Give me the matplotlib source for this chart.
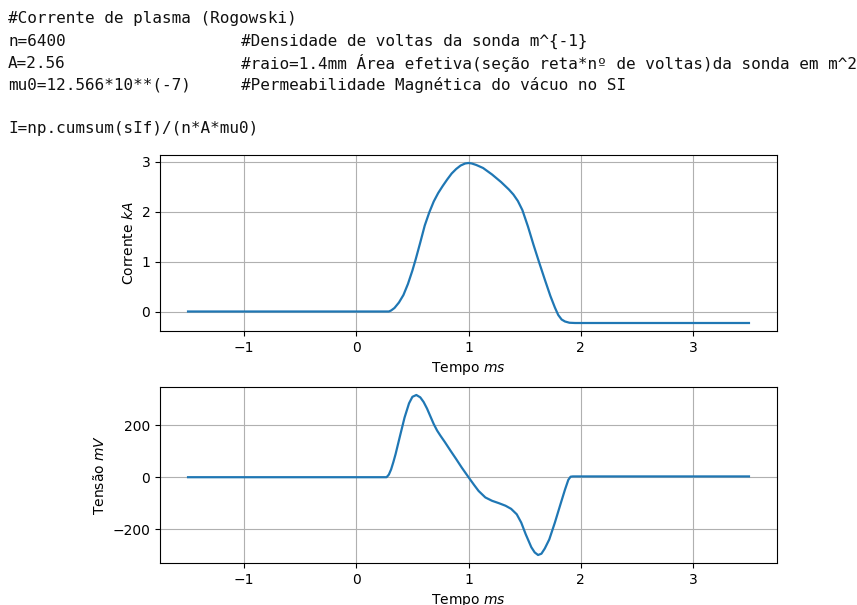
import matplotlib
matplotlib.use("Agg")
import matplotlib.pyplot as plt

# Current (kA) vs time (ms)
t_current = [-1.5, -1.0, 0.0, 0.29, 0.31, 0.34, 0.38, 0.42, 0.46, 0.50, 0.53, 0.57,
             0.61, 0.65, 0.69, 0.73, 0.77, 0.81, 0.85, 0.89, 0.93, 0.97, 1.0, 1.03,
             1.07, 1.13, 1.21, 1.29, 1.36, 1.40, 1.44, 1.48, 1.53, 1.58, 1.63, 1.68,
             1.73, 1.77, 1.80, 1.83, 1.86, 1.90, 1.95, 2.5, 3.0, 3.5]
current = [0.0, 0.0, 0.0, 0.0, 0.02, 0.07, 0.18, 0.33, 0.55, 0.82, 1.05, 1.38,
           1.72, 1.98, 2.20, 2.37, 2.51, 2.64, 2.76, 2.85, 2.92, 2.96, 2.97, 2.96,
           2.93, 2.87, 2.74, 2.59, 2.44, 2.34, 2.21, 2.03, 1.70, 1.33, 0.98, 0.64,
           0.31, 0.08, -0.07, -0.16, -0.20, -0.225, -0.23, -0.23, -0.23, -0.23]

# Voltage (mV) vs time (ms)
t_voltage = [-1.5, -1.0, 0.0, 0.27, 0.29, 0.31, 0.33, 0.35, 0.39, 0.43, 0.47, 0.50,
             0.535, 0.57, 0.60, 0.63, 0.66, 0.69, 0.72, 0.75, 0.79, 0.84, 0.89, 0.94,
             1.0, 1.05, 1.09, 1.15, 1.21, 1.27, 1.33, 1.38, 1.43, 1.47, 1.51, 1.56,
             1.59, 1.62, 1.65, 1.68, 1.72, 1.77, 1.82, 1.86, 1.89, 1.91, 1.93, 2.5,
             3.0, 3.5]
voltage = [0, 0, 0, 0, 10, 30, 58, 89, 160, 230, 285, 310,
           317, 308, 290, 265, 235, 205, 180, 160, 135, 102, 70, 37,
           0, -30, -53, -78, -91, -100, -110, -122, -143, -175, -220, -270,
           -290, -300, -295, -275, -240, -175, -104, -48, -10, 2, 3, 3,
           3, 3]

x_ticks = [-1, 0, 1, 2, 3]
current_ticks = [0, 1, 2, 3]
voltage_ticks = [-200, 0, 200]

header_lines = [
    ("#Corrente de plasma (Rogowski)", None),
    ("n=6400", "#Densidade de voltas da sonda m^{-1}"),
    ("A=2.56", "#raio=1.4mm Área efetiva(seção reta*nº de voltas)da sonda em m^2"),
    ("mu0=12.566*10**(-7)", "#Permeabilidade Magnética do vácuo no SI"),
]
footer_line = "I=np.cumsum(sIf)/(n*A*mu0)"

color = "#1f77b4"

fig = plt.figure(figsize=(8.57, 6.05), dpi=100)

mono = dict(family="DejaVu Sans Mono", fontsize=11.5, color="#111111", va="center")
ys = [18, 41, 63, 85]
for (left, right), y in zip(header_lines, ys):
    fig.text(8 / 857, 1 - y / 605, left, **mono)
    if right:
        fig.text(241 / 857, 1 - y / 605, right, **mono)
fig.text(8 / 857, 1 - 129 / 605, footer_line, **mono)

ax1 = fig.add_axes([160 / 857, 274 / 605, 617 / 857, 176 / 605])
ax1.plot(t_current, current, color=color, lw=1.6)
ax1.set_xticks(x_ticks)
ax1.set_yticks(current_ticks)
ax1.grid(True)
ax1.set_xlabel("Tempo $ms$")
ax1.set_ylabel("Corrente $kA$")

ax2 = fig.add_axes([160 / 857, 42 / 605, 617 / 857, 176 / 605])
ax2.plot(t_voltage, voltage, color=color, lw=1.6)
ax2.set_xticks(x_ticks)
ax2.set_yticks(voltage_ticks)
ax2.grid(True)
ax2.set_xlabel("Tempo $ms$")
ax2.set_ylabel("Tensão $mV$")

fig.savefig("out.png", dpi=100)
